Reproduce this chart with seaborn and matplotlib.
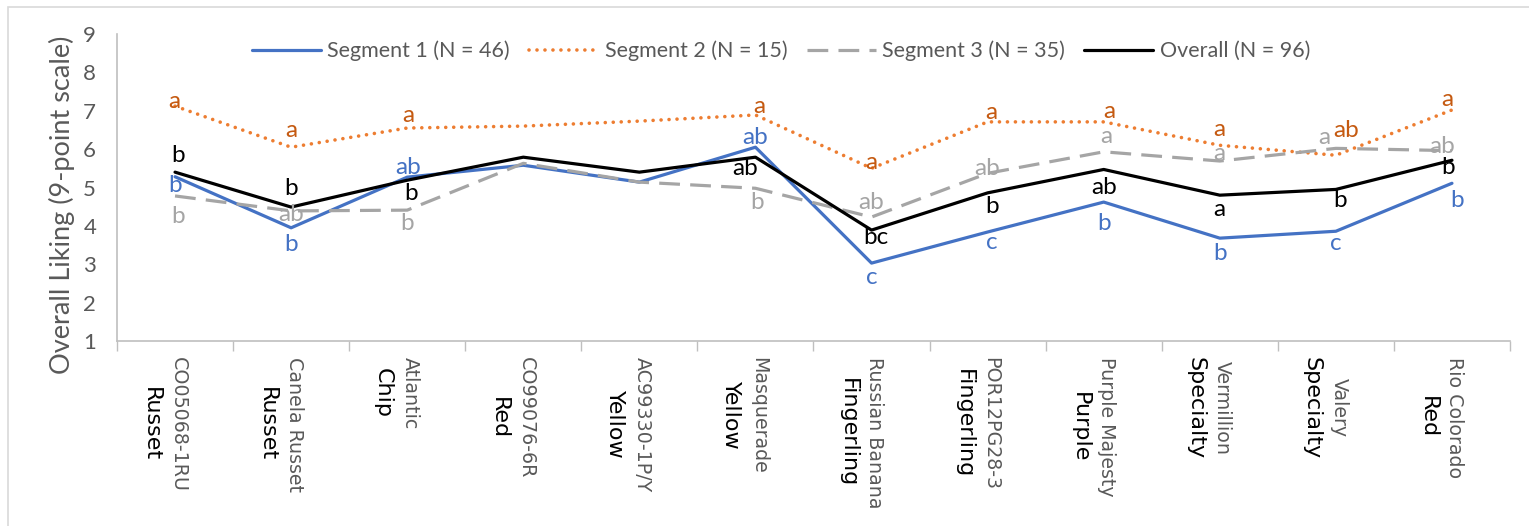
import numpy as np
import pandas as pd
import matplotlib
matplotlib.use("Agg")
import matplotlib.pyplot as plt
from matplotlib.patches import Rectangle
import seaborn as sns

# ---- data -------------------------------------------------------------
varieties = ["CO05068-1RU", "Canela Russet", "Atlantic", "CO99076-6R",
             "AC99330-1P/Y", "Masquerade", "Russian Banana", "POR12PG28-3",
             "Purple Majesty", "Vermillion", "Valery", "Rio Colorado"]
market_types = ["Russet", "Russet", "Chip", "Red", "Yellow", "Yellow",
                "Fingerling", "Fingerling", "Purple", "Specialty",
                "Specialty", "Red"]

segment1 = [5.28, 3.95, 5.27, 5.58, 5.14, 6.05, 3.03, 3.84, 4.62, 3.68, 3.86, 5.11]
segment2 = [7.12, 6.05, 6.55, 6.60, 6.73, 6.89, 5.50, 6.71, 6.71, 6.10, 5.84, 7.02]
segment3 = [4.78, 4.39, 4.41, 5.63, 5.14, 4.98, 4.23, 5.37, 5.93, 5.69, 6.02, 5.96]
overall = [5.40, 4.49, 5.19, 5.79, 5.40, 5.79, 3.89, 4.86, 5.47, 4.80, 4.95, 5.71]

# significance letters (Tukey groupings within each consumer group)
letters_seg1 = ["b", "b", "ab", "", "", "ab", "c", "c", "b", "b", "c", "b"]
letters_seg2 = ["a", "a", "a", "", "", "a", "a", "a", "a", "a", "ab", "a"]
letters_seg3 = ["b", "ab", "b", "", "", "b", "ab", "ab", "a", "a", "a", "ab"]
letters_all = ["b", "b", "b", "", "", "ab", "bc", "b", "ab", "a", "b", "b"]

series_names = ["Segment 1 (N = 46)", "Segment 2 (N = 15)",
                "Segment 3 (N = 35)", "Overall (N = 96)"]

# ---- styling ----------------------------------------------------------
line_colors = ["#4472C4", "#ED7D31", "#A5A5A5", "#000000"]
letter_colors = ["#4472C4", "#C55A11", "#A5A5A5", "#000000"]
line_widths = [2.3, 2.6, 2.3, 2.3]
line_dashes = [None, (0.01, 2.2), (6.5, 3.2), None]

# letter placement relative to each point, in pixels (dx, dy)
letter_offsets = [
    [(0, -9), (0, -17), (1, 10), None, None, (0, 10), (0, -14), (4, -10),
     (0, -21), (0, -15), (0, -12), (5, -17)],
    [(-1, 5), (0, 17), (1, 13), None, None, (4, 8), (0, 6), (4, 9),
     (6, 10), (0, 16), (10, 25), (-5, 10)],
    [(3, -21), (0, -4), (0, -13), None, None, (2, -14), (0, 15), (0, 5),
     (3, 15), (0, 8), (-12, 11), (-10, 4)],
    [(3, 17), (0, 19), (4, -13), None, None, (-10, -11), (4, -7), (4, -14),
     (0, -18), (0, -14), (4, -11), (-4, -7)],
]

W, H, DPI = 1529, 526, 100
sns.set_theme(style="white")
plt.rcParams["font.family"] = ["Lato", "DejaVu Sans"]

fig = plt.figure(figsize=(W / DPI, H / DPI), dpi=DPI)
ax = fig.add_axes([117 / W, 1 - 341 / H, (1510 - 117) / W, (341 - 34) / H])

x = np.arange(len(varieties))
series_values = [segment1, segment2, segment3, overall]
all_letters = [letters_seg1, letters_seg2, letters_seg3, letters_all]

df = pd.DataFrame({
    "pos": np.tile(x, 4),
    "liking": np.concatenate(series_values),
    "group": np.repeat(series_names, len(x)),
})

handles = []
for name, col, lw, dash in zip(series_names, line_colors, line_widths,
                               line_dashes):
    sub = df[df["group"] == name]
    sns.lineplot(data=sub, x="pos", y="liking", ax=ax, color=col,
                 lw=lw, sort=False, legend=False)
    ln = ax.lines[-1]
    if dash is not None:
        ln.set_dashes(dash)
        if dash[0] < 0.1:
            ln.set_dash_capstyle("round")
    ln.set_label(name)
    handles.append(ln)

# significance letters
to_px = 72 / DPI
for vals, lets, offs, col in zip(series_values, all_letters, letter_offsets,
                                 letter_colors):
    for i, (v, t, o) in enumerate(zip(vals, lets, offs)):
        if not t:
            continue
        ax.annotate(t, xy=(i, v), xytext=(o[0] * to_px, o[1] * to_px),
                    textcoords="offset points", ha="center", va="center",
                    fontsize=17.5, color=col, zorder=5)

ax.set_xlim(-0.5, len(x) - 0.5)
ax.set_ylim(1, 9)
ax.set_xlabel("")
ax.set_ylabel("")
ax.set_yticks(range(1, 10))
ax.tick_params(axis="y", length=0, pad=15, labelsize=16, labelcolor="#595959")
ax.set_xticks(x)
ax.set_xticklabels([])
ax.tick_params(axis="x", which="major", length=0)
ax.set_xticks(np.arange(-0.5, len(x), 1.0), minor=True)
ax.tick_params(axis="x", which="minor", length=7, width=1, color="#BFBFBF",
               direction="out", bottom=True)
for side in ["top", "right"]:
    ax.spines[side].set_visible(False)
for side in ["left", "bottom"]:
    ax.spines[side].set_color("#BFBFBF")
    ax.spines[side].set_linewidth(1.2)

fig.text(62 / W, 1 - 205 / H, "Overall Liking (9-point scale)", rotation=90,
         ha="center", va="center", fontsize=19.5, color="#595959")

# two-line category labels: variety name (grey) and market type (black)
name_texts, type_texts = [], []
for i in range(len(x)):
    nt = ax.annotate(varieties[i], xy=(i, 0), xycoords=("data", "axes fraction"),
                     xytext=(0, 0), textcoords="offset points", rotation=-90,
                     ha="center", va="center", fontsize=13.7,
                     family="DejaVu Sans", color="#595959",
                     annotation_clip=False)
    tt = ax.annotate(market_types[i], xy=(i, 0), xycoords=("data", "axes fraction"),
                     xytext=(0, 0), textcoords="offset points", rotation=-90,
                     ha="center", va="center", fontsize=16,
                     family="DejaVu Sans", color="#000000",
                     annotation_clip=False)
    name_texts.append(nt)
    type_texts.append(tt)

fig.canvas.draw()
renderer = fig.canvas.get_renderer()
for nt, tt in zip(name_texts, type_texts):
    ln = max(nt.get_window_extent(renderer).height,
             tt.get_window_extent(renderer).height)
    cy = -(16 + ln / 2) * to_px
    nt.xyann = (3 * to_px, cy)
    tt.xyann = (-24 * to_px, cy)

fig.legend(handles=handles, loc="center", bbox_to_anchor=(781 / W, 1 - 51 / H),
           ncol=4, frameon=False, fontsize=15.5, handlelength=3.2,
           handletextpad=0.3, columnspacing=0.9, labelcolor="#595959")

fig.add_artist(Rectangle((8 / W, -0.05), 1.0, (H - 7) / H + 0.05,
                         transform=fig.transFigure, fill=False,
                         edgecolor="#D9D9D9", lw=1.2))

fig.savefig("out.png", dpi=DPI, facecolor="white")
